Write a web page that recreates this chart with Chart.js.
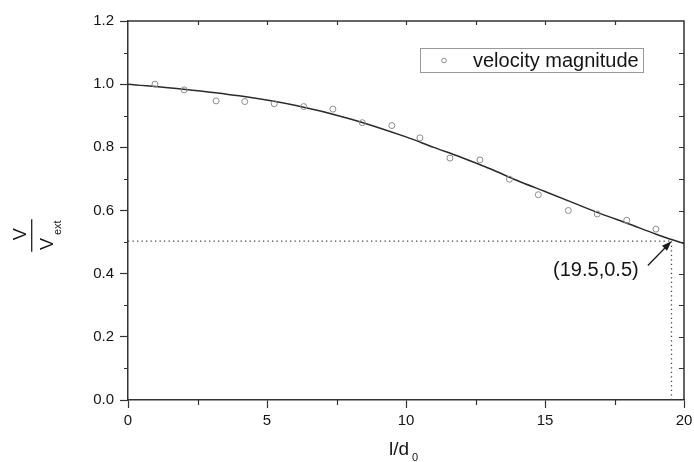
<!DOCTYPE html>
<html>
<head>
<meta charset="utf-8">
<script src="https://cdn.jsdelivr.net/npm/chart.js@4.4.1/dist/chart.umd.min.js"></script>
<style>
html,body{margin:0;padding:0;background:#fff;}
#wrap{width:694px;height:462px;}
</style>
</head>
<body>
<div id="wrap"><canvas id="c" width="694" height="462"></canvas></div>
<script>
// ---- data ----
const pointX = [0.97, 2.02, 3.17, 4.2, 5.26, 6.32, 7.37, 8.43, 9.49, 10.5, 11.58, 12.66, 13.72, 14.76, 15.84, 16.88, 17.94, 18.99];
const pointY = [1.0, 0.982, 0.947, 0.945, 0.938, 0.929, 0.921, 0.878, 0.869, 0.83, 0.766, 0.760, 0.699, 0.650, 0.600, 0.589, 0.569, 0.541];
const curveX = [0, 2, 4, 6, 8, 10, 11, 12, 13, 14, 15, 16, 17, 18, 19, 20];
const curveY = [1.0, 0.984, 0.963, 0.933, 0.89, 0.833, 0.80, 0.768, 0.733, 0.695, 0.66, 0.625, 0.59, 0.558, 0.525, 0.495];
const markX = 19.55, markY = 0.503;
const markLabel = '(19.5,0.5)';
const labelPos = [16.83, 0.41];
const arrowTail = [18.7, 0.426];
const xTicks = [0, 5, 10, 15, 20];
const yTicks = [0.0, 0.2, 0.4, 0.6, 0.8, 1.0, 1.2];
const legendLabel = 'velocity magnitude';

const AX = '#333';
const PT = '#8c8c8c';
const TXT = '#151515';
const FONT = '"Liberation Sans", Arial, sans-serif';

const zip = (a, b) => a.map((v, i) => ({x: v, y: b[i]}));

const decor = {
  id: 'decor',
  afterDraw(chart) {
    const {ctx, chartArea: ca, scales: {x, y}} = chart;
    ctx.save();
    ctx.strokeStyle = AX; ctx.lineWidth = 1.5;
    ctx.beginPath();
    ctx.moveTo(ca.left, ca.top); ctx.lineTo(ca.right, ca.top); ctx.lineTo(ca.right, ca.bottom);
    ctx.stroke();
    ctx.lineWidth = 1.2;
    ctx.beginPath();
    for (let v = 0.1; v < 1.2; v += 0.2) {
      const py = Math.round(y.getPixelForValue(v)) + 0.5;
      ctx.moveTo(ca.left - 4, py); ctx.lineTo(ca.left, py);
    }
    for (let v = 2.5; v < 20; v += 5) {
      const px = Math.round(x.getPixelForValue(v)) + 0.5;
      ctx.moveTo(px, ca.bottom); ctx.lineTo(px, ca.bottom + 5);
    }
    for (let v = 0.1; v < 1.2; v += 0.1) {
      const py = Math.round(y.getPixelForValue(v)) + 0.5;
      ctx.moveTo(ca.right - 5, py); ctx.lineTo(ca.right, py);
    }
    for (let v = 2.5; v < 20; v += 2.5) {
      const px = Math.round(x.getPixelForValue(v)) + 0.5;
      ctx.moveTo(px, ca.top); ctx.lineTo(px, ca.top + 4);
    }
    ctx.stroke();

    // annotation arrow
    const hx = x.getPixelForValue(markX), hy = y.getPixelForValue(markY);
    const tx = x.getPixelForValue(arrowTail[0]), ty = y.getPixelForValue(arrowTail[1]);
    const ang = Math.atan2(hy - ty, hx - tx);
    ctx.strokeStyle = '#1a1a1a'; ctx.fillStyle = '#1a1a1a'; ctx.lineWidth = 1.3;
    ctx.beginPath(); ctx.moveTo(tx, ty); ctx.lineTo(hx - 6 * Math.cos(ang), hy - 6 * Math.sin(ang)); ctx.stroke();
    ctx.beginPath();
    ctx.moveTo(hx, hy);
    ctx.lineTo(hx - 10 * Math.cos(ang) + 3.5 * Math.sin(ang), hy - 10 * Math.sin(ang) - 3.5 * Math.cos(ang));
    ctx.lineTo(hx - 10 * Math.cos(ang) - 3.5 * Math.sin(ang), hy - 10 * Math.sin(ang) + 3.5 * Math.cos(ang));
    ctx.closePath(); ctx.fill();
    ctx.fillStyle = TXT;
    ctx.font = '20px ' + FONT;
    ctx.textAlign = 'center'; ctx.textBaseline = 'middle';
    ctx.fillText(markLabel, x.getPixelForValue(labelPos[0]), y.getPixelForValue(labelPos[1]));

    // legend
    ctx.strokeStyle = '#999'; ctx.lineWidth = 1;
    ctx.strokeRect(420.5, 48.5, 223, 24);
    ctx.strokeStyle = PT; ctx.lineWidth = 1;
    ctx.beginPath(); ctx.arc(444, 60.5, 2.3, 0, Math.PI * 2); ctx.stroke();
    ctx.fillStyle = TXT; ctx.font = '20px ' + FONT;
    ctx.textAlign = 'left'; ctx.textBaseline = 'middle';
    ctx.fillText(legendLabel, 473, 61);

    // x title l/d0
    ctx.textBaseline = 'alphabetic'; ctx.textAlign = 'left';
    ctx.font = '19px ' + FONT;
    ctx.fillText('l/d', 389, 455);
    ctx.font = '11px ' + FONT;
    ctx.fillText('0', 412, 461);

    // y title V / V_ext (rotated)
    ctx.translate(31.7, 235.5);
    ctx.rotate(-Math.PI / 2);
    ctx.font = '18px ' + FONT;
    ctx.textAlign = 'center';
    ctx.fillText('V', 1.3, -6.2);
    ctx.textAlign = 'left';
    ctx.fillText('V', -14.5, 21.5);
    ctx.font = '11px ' + FONT;
    ctx.fillText('ext', 0.5, 29.5);
    ctx.strokeStyle = '#222'; ctx.lineWidth = 1.3;
    ctx.beginPath(); ctx.moveTo(-16.2, 0); ctx.lineTo(16.2, 0); ctx.stroke();
    ctx.restore();
  }
};

new Chart(document.getElementById('c'), {
  type: 'scatter',
  data: {
    datasets: [
      {
        label: legendLabel,
        data: zip(pointX, pointY),
        showLine: false,
        pointStyle: 'circle',
        pointRadius: 3,
        pointBorderWidth: 1,
        pointBorderColor: PT,
        pointBackgroundColor: 'rgba(0,0,0,0)',
        order: 1
      },
      {
        label: 'fit',
        data: zip(curveX, curveY),
        showLine: true,
        borderColor: '#2a2a2a',
        borderWidth: 1.5,
        pointRadius: 0,
        cubicInterpolationMode: 'monotone',
        order: 2
      },
      {
        label: 'h',
        data: [{x: 0, y: markY}, {x: markX, y: markY}],
        showLine: true,
        borderColor: '#444',
        borderWidth: 1.3,
        borderDash: [1.3, 3.2],
        pointRadius: 0,
        order: 3
      },
      {
        label: 'v',
        data: [{x: markX, y: markY}, {x: markX, y: 0}],
        showLine: true,
        borderColor: '#444',
        borderWidth: 1.3,
        borderDash: [1.3, 3.2],
        pointRadius: 0,
        order: 3
      }
    ]
  },
  options: {
    responsive: false,
    animation: false,
    layout: {padding: {top: 21, right: 10, left: 0, bottom: 0}},
    plugins: {legend: {display: false}, tooltip: {enabled: false}},
    scales: {
      x: {
        type: 'linear', min: 0, max: 20,
        afterFit(s) { s.height = 62; s.paddingRight = 0; s.paddingLeft = 0; },
        afterBuildTicks(s) { s.ticks = xTicks.map(v => ({value: v})); },
        ticks: {color: TXT, font: {family: FONT, size: 15}, padding: 4, maxRotation: 0, callback: v => String(v)},
        grid: {drawOnChartArea: false, drawTicks: true, tickLength: 8, tickColor: AX, tickWidth: 1.2},
        border: {display: true, color: AX, width: 1.5}
      },
      y: {
        type: 'linear', min: 0, max: 1.2,
        afterFit(s) { s.width = 128; s.paddingTop = 0; s.paddingBottom = 0; },
        afterBuildTicks(s) { s.ticks = yTicks.map(v => ({value: v})); },
        ticks: {color: TXT, font: {family: FONT, size: 15}, padding: 6, callback: v => Number(v).toFixed(1)},
        grid: {drawOnChartArea: false, drawTicks: true, tickLength: 8, tickColor: AX, tickWidth: 1.2},
        border: {display: true, color: AX, width: 1.5}
      }
    }
  },
  plugins: [decor]
});
</script>
</body>
</html>
